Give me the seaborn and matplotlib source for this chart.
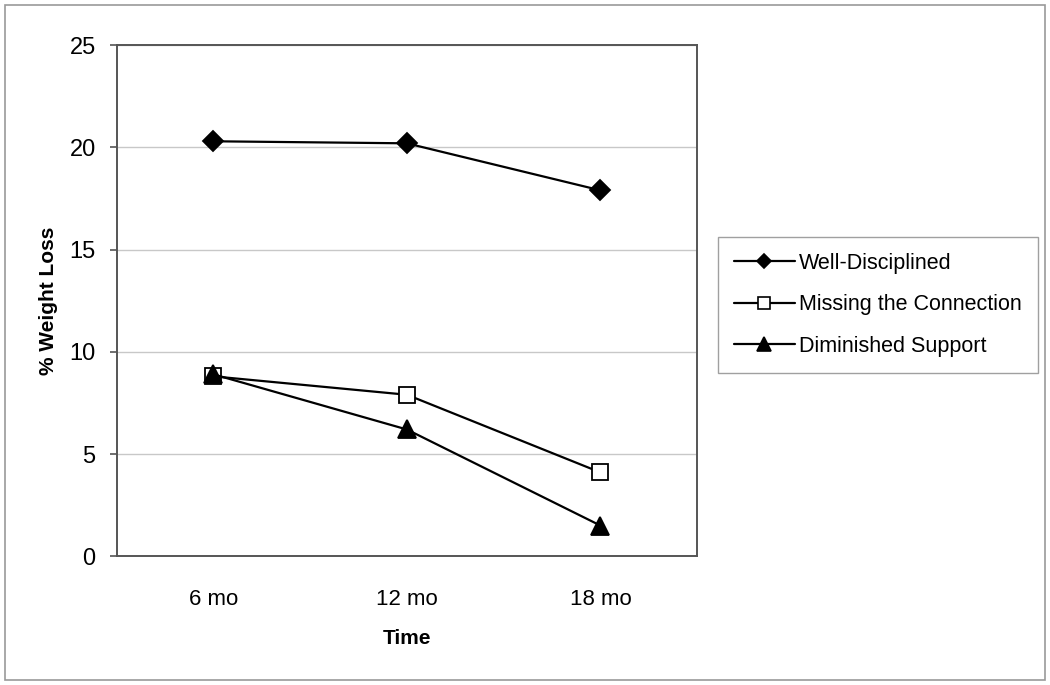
import pandas as pd
import seaborn as sns
import matplotlib.pyplot as plt
from matplotlib.patches import Rectangle
from matplotlib.lines import Line2D

# Data
times = ['6 mo', '12 mo', '18 mo']
well_disciplined = [20.3, 20.2, 17.9]
missing_connection = [8.8, 7.9, 4.1]
diminished_support = [8.9, 6.2, 1.5]

series = {
    'Well-Disciplined': well_disciplined,
    'Missing the Connection': missing_connection,
    'Diminished Support': diminished_support,
}
styles = {
    'Well-Disciplined': dict(marker='D', markersize=10, mfc='black'),
    'Missing the Connection': dict(marker='s', markersize=11, mfc='white'),
    'Diminished Support': dict(marker='^', markersize=13, mfc='black'),
}

sns.set_style('white', {'text.color': 'black', 'axes.labelcolor': 'black',
                        'xtick.color': 'black', 'ytick.color': 'black'})
plt.rcParams['font.family'] = ['Liberation Sans', 'DejaVu Sans']

fig = plt.figure(figsize=(10.5, 6.85), dpi=100)
ax = fig.add_axes([0.111, 0.188, 0.553, 0.746])

rows = []
for name, vals in series.items():
    for t, v in zip(times, vals):
        rows.append({'Time': t, 'value': v, 'series': name})
df = pd.DataFrame(rows)

handles = []
for name in series:
    st = styles[name]
    sub = df[df['series'] == name]
    sns.lineplot(data=sub, x='Time', y='value', ax=ax, color='black', linewidth=1.6,
                 marker=st['marker'], markersize=st['markersize'],
                 markerfacecolor=st['mfc'], markeredgecolor='black', markeredgewidth=1.3)
    handles.append(Line2D([], [], color='black', linewidth=1.6, marker=st['marker'],
                          markersize=st['markersize'] * 0.75, markerfacecolor=st['mfc'],
                          markeredgecolor='black', markeredgewidth=1.2, label=name))

ax.set_xlim(-0.5, 2.5)
ax.set_ylim(0, 25)
ax.set_yticks([0, 5, 10, 15, 20, 25])
ax.yaxis.grid(True, color='#c8c8c8', linewidth=1)
ax.xaxis.grid(False)
for sp in ax.spines.values():
    sp.set_color('#555555')
    sp.set_linewidth(1.4)
ax.tick_params(axis='y', left=True, length=5, width=1.2, color='#555555',
               labelcolor='black', labelsize=17, pad=10)
ax.tick_params(axis='x', bottom=False, labelcolor='black', labelsize=16, pad=20)
ax.set_xlabel('Time', fontsize=15, fontweight='bold', labelpad=14, color='black')
ax.set_ylabel('% Weight Loss', fontsize=15, fontweight='bold', labelpad=8, color='black')

leg = ax.legend(handles=handles, loc='center left', bbox_to_anchor=(0.684, 0.555),
                bbox_transform=fig.transFigure, fontsize=15.5, frameon=True, fancybox=False,
                edgecolor='#888888', handlelength=2.8, handletextpad=0.2, labelspacing=0.95,
                borderpad=0.75, borderaxespad=0, labelcolor='black')
leg.get_frame().set_linewidth(1.0)

fig.patches.append(Rectangle((0.005, 0.007), 0.99, 0.986, transform=fig.transFigure,
                             fill=False, edgecolor='#999999', linewidth=1.2))

fig.savefig('out.png', dpi=100)
